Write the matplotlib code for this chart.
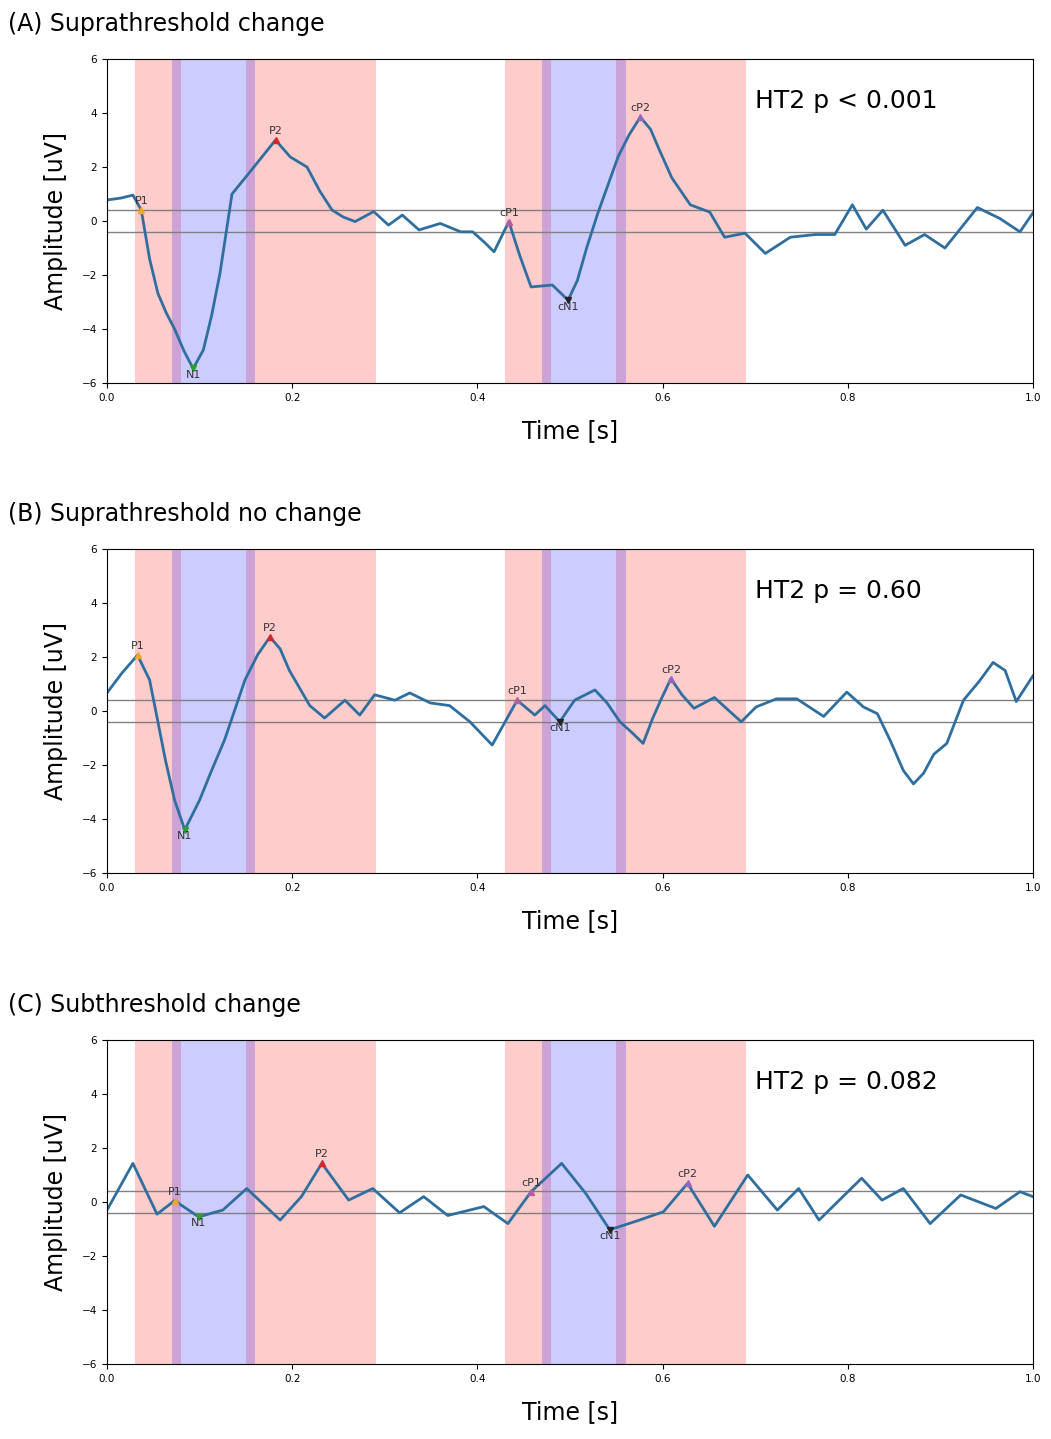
import matplotlib
matplotlib.use("Agg")
import matplotlib.pyplot as plt

# ---- data ----
t_a = [0, .015, .028, .037, .046, .055, .064, .073, .083, .093, .104, .113, .122, .135, .153, .168,
       .182, .198, .216, .230, .243, .255, .268, .288, .304, .319, .337, .360, .382, .395, .408,
       .418, .434, .446, .458, .481, .498, .508, .518, .530, .552, .564, .576, .587, .597, .610,
       .63, .651, .667, .689, .711, .738, .765, .786, .805, .82, .838, .862, .883, .905, .94,
       .964, .986, 1.0]
amp_a = [0.78, 0.85, 0.96, 0.41, -1.4, -2.68, -3.4, -4.0, -4.8, -5.46, -4.78, -3.5, -1.94, 1.0,
         1.76, 2.4, 3.0, 2.37, 2.0, 1.1, 0.41, 0.15, -0.02, 0.35, -0.15, 0.22, -0.33, -0.09, -0.4,
         -0.4, -0.8, -1.14, -0.02, -1.3, -2.44, -2.37, -2.93, -2.2, -1.0, 0.28, 2.38, 3.2, 3.85,
         3.4, 2.6, 1.6, 0.6, 0.33, -0.6, -0.45, -1.2, -0.6, -0.5, -0.5, 0.6, -0.3, 0.4, -0.9, -0.5,
         -1.0, 0.5, 0.1, -0.4, 0.3]

t_b = [0, .016, .033, .046, .055, .063, .073, .084, .1, .113, .127, .149, .163, .176, .187, .197,
       .219, .235, .257, .273, .289, .311, .327, .349, .37, .392, .416, .443, .462, .473, .489,
       .505, .527, .540, .554, .567, .579, .589, .598, .609, .621, .634, .656, .685, .701, .723,
       .745, .774, .799, .817, .832, .846, .860, .871, .882, .893, .907, .925, .942, .957, .970,
       .982, 1.0]
amp_b = [0.67, 1.4, 2.07, 1.15, -0.4, -1.8, -3.3, -4.4, -3.3, -2.2, -1.07, 1.15, 2.1, 2.74, 2.3,
         1.5, 0.2, -0.26, 0.4, -0.15, 0.6, 0.4, 0.67, 0.3, 0.2, -0.4, -1.26, 0.4, -0.15, 0.2, -0.4,
         0.4, 0.78, 0.3, -0.4, -0.8, -1.2, -0.3, 0.4, 1.2, 0.6, 0.1, 0.5, -0.4, 0.15, 0.45, 0.45,
         -0.2, 0.7, 0.15, -0.1, -1.1, -2.2, -2.7, -2.3, -1.6, -1.2, 0.4, 1.1, 1.8, 1.5, 0.35, 1.3]

t_c = [0, .028, .054, .073, .099, .125, .151, .187, .210, .232, .261, .287, .316, .342, .368, .407,
       .433, .458, .491, .517, .543, .575, .601, .627, .656, .692, .724, .747, .769, .815, .837,
       .860, .889, .922, .960, .986, 1.0]
amp_c = [-0.3, 1.43, -0.45, 0.05, -0.55, -0.3, 0.5, -0.67, 0.2, 1.43, 0.07, 0.5, -0.4, 0.2, -0.5,
         -0.17, -0.8, 0.38, 1.43, 0.32, -1.03, -0.67, -0.36, 0.69, -0.9, 1.0, -0.3, 0.5, -0.67, 0.88,
         0.07, 0.5, -0.8, 0.26, -0.24, 0.38, 0.2]

peak_names = ["P1", "N1", "P2", "cP1", "cN1", "cP2"]
peak_colors = ["#f5a623", "#2ca02c", "#d62728", "#b05fa0", "#222222", "#9467bd"]
# (time, amplitude) for each peak in each panel
peaks_a = [(.037, 0.41), (.093, -5.46), (.182, 3.0), (.434, -0.02), (.498, -2.93), (.576, 3.85)]
peaks_b = [(.033, 2.07), (.084, -4.4), (.176, 2.74), (.443, 0.4), (.489, -0.4), (.609, 1.2)]
peaks_c = [(.073, 0.05), (.099, -0.55), (.232, 1.43), (.458, 0.38), (.543, -1.03), (.627, 0.69)]

titles = ["(A) Suprathreshold change", "(B) Suprathreshold no change", "(C) Subthreshold change"]
stats = ["HT2 p < 0.001", "HT2 p = 0.60", "HT2 p = 0.082"]

pos_windows = [(0.03, 0.08), (0.15, 0.29), (0.43, 0.48), (0.55, 0.69)]
neg_windows = [(0.07, 0.16), (0.47, 0.56)]
threshold = 0.4

fig = plt.figure(figsize=(10.51, 14.39), dpi=100)
bottoms = [0.7338, 0.3933, 0.0521]
series = [(t_a, amp_a, peaks_a), (t_b, amp_b, peaks_b), (t_c, amp_c, peaks_c)]

for i, (t, amp, peaks) in enumerate(series):
    ax = fig.add_axes([0.1018, bottoms[i], 0.881, 0.2252])
    for a, b in pos_windows:
        ax.axvspan(a, b, color="red", alpha=0.2, lw=0)
    for a, b in neg_windows:
        ax.axvspan(a, b, color="blue", alpha=0.2, lw=0)
    ax.axhline(threshold, color="gray", lw=1)
    ax.axhline(-threshold, color="gray", lw=1)
    ax.plot(t, amp, color="#2f6f9f", lw=2, solid_joinstyle="round")
    for name, col, (pt, pa) in zip(peak_names, peak_colors, peaks):
        ax.plot(pt, pa, marker="v" if name.endswith("N1") else "^", color=col, ms=5)
        is_pos = "P" in name
        ax.text(pt, pa + (0.15 if is_pos else -0.05), name, fontsize=8,
                ha="center", va="bottom" if is_pos else "top", color="#333333")
    ax.set_xlim(0, 1)
    ax.set_ylim(-6, 6)
    ax.set_yticks(range(-6, 7, 2))
    ax.tick_params(labelsize=7.5)
    ax.set_xlabel("Time [s]", fontsize=17, labelpad=12)
    ax.set_ylabel("Amplitude [uV]", fontsize=17, labelpad=10)
    ax.text(0.70, 0.87, stats[i], transform=ax.transAxes, fontsize=18, va="center")
    fig.text(0.008, bottoms[i] + 0.2252 + 0.024, titles[i], fontsize=17, va="center")

fig.savefig("out.png", dpi=100)
